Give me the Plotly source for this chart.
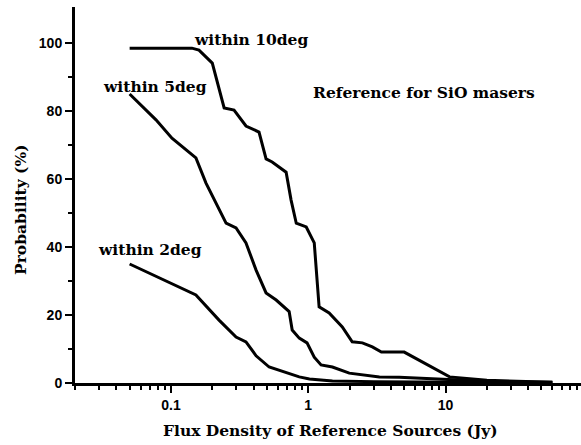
import numpy as np
import plotly.graph_objects as go

# ---- data ----
flux_10 = [0.05, 0.142, 0.16, 0.2, 0.244, 0.288, 0.352, 0.438, 0.493, 0.546, 0.69, 0.75,
           0.818, 0.967, 1.106, 1.2, 1.42, 1.77, 2.09, 2.48, 2.93, 3.41, 5.0, 10.7, 20, 40, 60]
prob_10 = [98.5, 98.5, 97.9, 94.1, 80.9, 80.3, 75.6, 73.8, 65.9, 65.0, 62.0, 53.8,
           47.0, 45.9, 41.2, 22.4, 20.6, 16.5, 12.1, 11.8, 10.6, 9.1, 9.1, 1.8, 0.8, 0.4, 0.2]

flux_5 = [0.05, 0.0778, 0.1017, 0.152, 0.18, 0.252, 0.298, 0.352, 0.417, 0.493, 0.584, 0.726,
          0.764, 0.86, 0.98, 1.106, 1.24, 1.5, 1.99, 3.3, 4.6, 6.0, 10, 20, 40, 60]
prob_5 = [85, 77.4, 72.0, 66.2, 58.8, 47.0, 45.6, 41.2, 33.2, 26.5, 24.4, 21.0,
          15.6, 13.2, 11.8, 7.6, 5.3, 4.7, 2.9, 1.8, 1.7, 1.5, 1.0, 0.5, 0.3, 0.2]

flux_2 = [0.05, 0.152, 0.224, 0.298, 0.352, 0.417, 0.519, 0.70, 0.86, 1.02, 1.5, 3, 10, 20, 60]
prob_2 = [35, 25.9, 18.5, 13.5, 12.1, 8.0, 4.7, 2.9, 1.8, 1.2, 0.6, 0.4, 0.3, 0.2, 0.1]

series_names = ["within 10deg", "within 5deg", "within 2deg"]

x_major = [0.1, 1, 10]
x_major_text = ["0.1", "1", "10"]
x_minor = [m * d for d in (0.01, 0.1, 1, 10) for m in range(2, 10)]
y_major = [0, 20, 40, 60, 80, 100]
y_minor = [10, 30, 50, 70, 90]

# ---- layout geometry (pixels) ----
W, H = 581, 445
L, R, T, B = 75, 0, 7, 62
pw, ph = W - L - R, H - T - B

def px(x):
    return (x - L) / pw

def py(y):
    return (H - B - y) / ph

fig = go.Figure()
for fx, fy, nm in [(flux_10, prob_10, series_names[0]),
                   (flux_5, prob_5, series_names[1]),
                   (flux_2, prob_2, series_names[2])]:
    fig.add_trace(go.Scatter(x=fx, y=fy, mode="lines", name=nm,
                             line=dict(color="black", width=3), showlegend=False))

serif = "DejaVu Serif"
sans = "Liberation Sans"
tfont = dict(family=serif, size=15.5, color="black", weight="bold")

ann = [
    dict(text="within 10deg", x=px(251), y=py(40)),
    dict(text="within 5deg", x=px(155), y=py(86)),
    dict(text="within 2deg", x=px(150), y=py(250)),
    dict(text="Reference for SiO masers", x=px(424), y=py(92)),
]
for a in ann:
    fig.add_annotation(text=a["text"], x=a["x"], y=a["y"], xref="paper", yref="paper",
                       showarrow=False, xanchor="center", yanchor="middle", font=tfont)

fig.add_annotation(text="Flux Density of Reference Sources (Jy)", x=px(330), y=py(430),
                   xref="paper", yref="paper", showarrow=False,
                   xanchor="center", yanchor="middle", font=tfont)
fig.add_annotation(text="Probability (%)", x=px(20), y=py(210), textangle=-90,
                   xref="paper", yref="paper", showarrow=False,
                   xanchor="center", yanchor="middle", font=tfont)

fig.update_xaxes(type="log", range=[np.log10(0.02), np.log10(97)],
                 showline=True, linecolor="black", linewidth=3,
                 showgrid=False, zeroline=False,
                 tickmode="array", tickvals=x_major, ticktext=x_major_text,
                 ticks="outside", ticklen=7, tickwidth=2, tickcolor="black",
                 tickfont=dict(family=sans, size=14, color="black", weight="bold"),
                 minor=dict(tickmode="array", tickvals=x_minor, ticks="outside",
                            ticklen=4, tickwidth=2, tickcolor="black", showgrid=False))
fig.update_yaxes(range=[0, 110.6],
                 showline=True, linecolor="black", linewidth=3,
                 showgrid=False, zeroline=False,
                 tickmode="array", tickvals=y_major,
                 ticks="outside", ticklen=7, tickwidth=2, tickcolor="black",
                 tickfont=dict(family=sans, size=14, color="black", weight="bold"),
                 minor=dict(tickmode="array", tickvals=y_minor, ticks="outside",
                            ticklen=4, tickwidth=2, tickcolor="black", showgrid=False))

fig.update_layout(width=W, height=H, margin=dict(l=L, r=R, t=T, b=B),
                  paper_bgcolor="white", plot_bgcolor="white", showlegend=False)

fig.write_html("out.html")
